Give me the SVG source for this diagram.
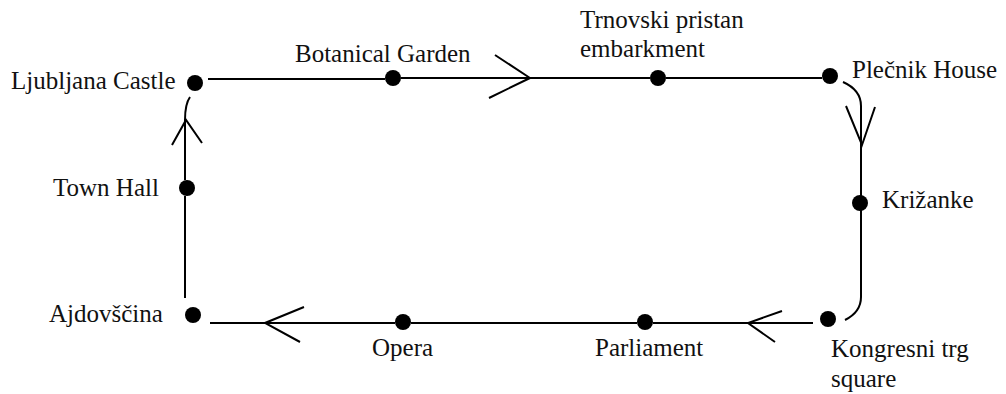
<svg xmlns="http://www.w3.org/2000/svg" width="1006" height="394" viewBox="0 0 1006 394">
<style>
.lbl{font-size:25px;fill:#111}
.ln{fill:none;stroke:#000;stroke-width:2}
.dot{fill:#000}
</style>
<rect width="1006" height="394" fill="#fff"/>
<g id="connectors">
<path class="ln" d="M208,79 H385 M401,78 H650 M666,78 H822"/>
<path class="ln" d="M843,82 Q861,90 861,106 V297 Q861,312 845,320"/>
<path class="ln" d="M813,323 H653 M637,323 H411 M395,323 H210"/>
<path class="ln" d="M185,298 V196 M185,180 V120 Q185,104 190,97"/>
<path class="ln" d="M495,55 L530,78 L489,98"/>
<path class="ln" d="M846,106 L862,145 L875,107"/>
<path class="ln" d="M782,311 L748,323 L775,342"/>
<path class="ln" d="M304,307 L265,323 L300,342"/>
<path class="ln" d="M172,145 L186,120 L202,143"/>
</g>
<g font-family="DejaVu Serif">
<g id="ljubljana-castle"><circle class="dot" cx="195" cy="83" r="8"/><text class="lbl" x="11" y="89" font-family="Liberation Serif">Ljubljana Castle</text></g>
<g id="botanical-garden"><circle class="dot" cx="393" cy="78" r="8"/><text class="lbl" x="295" y="62" font-family="Liberation Serif">Botanical Garden</text></g>
<g id="trnovski"><circle class="dot" cx="658" cy="78" r="8"/><text class="lbl" x="580" y="28" font-family="Liberation Serif">Trnovski pristan</text><text class="lbl" x="580" y="57" font-family="Liberation Serif">embarkment</text></g>
<g id="plecnik-house"><circle class="dot" cx="830" cy="76" r="8"/><text class="lbl" x="852" y="78" font-family="Liberation Serif">Plečnik House</text></g>
<g id="krizanke"><circle class="dot" cx="860" cy="203" r="8"/><text class="lbl" x="882" y="208" font-family="Liberation Serif">Križanke</text></g>
<g id="kongresni-trg"><circle class="dot" cx="828" cy="319" r="8"/><text class="lbl" x="831" y="357" font-family="Liberation Serif">Kongresni trg</text><text class="lbl" x="831" y="387" font-family="Liberation Serif">square</text></g>
<g id="parliament"><circle class="dot" cx="645" cy="322" r="8"/><text class="lbl" x="595" y="356" font-family="Liberation Serif">Parliament</text></g>
<g id="opera"><circle class="dot" cx="403" cy="322" r="8"/><text class="lbl" x="372" y="356" font-family="Liberation Serif">Opera</text></g>
<g id="ajdovscina"><circle class="dot" cx="193" cy="315" r="8"/><text class="lbl" x="49" y="322" font-family="Liberation Serif">Ajdovščina</text></g>
<g id="town-hall"><circle class="dot" cx="187" cy="188" r="8"/><text class="lbl" x="53" y="196" font-family="Liberation Serif">Town Hall</text></g>
</g>
</svg>
